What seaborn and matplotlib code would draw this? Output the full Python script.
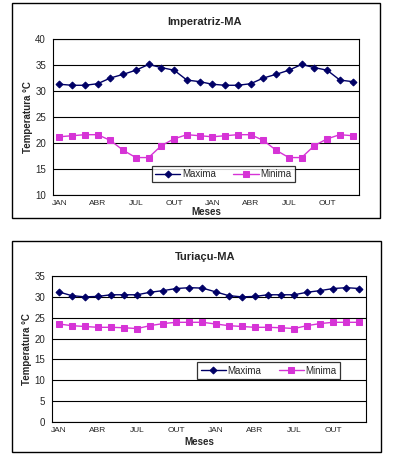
import pandas as pd
import matplotlib
matplotlib.use("Agg")
import matplotlib.pyplot as plt
import seaborn as sns
from matplotlib.patches import Rectangle
from matplotlib.ticker import MultipleLocator, FixedLocator

sns.set_style("white")
plt.rcParams['font.family'] = ['Liberation Sans', 'DejaVu Sans']

meses = ["JAN", "FEV", "MAR", "ABR", "MAI", "JUN", "JUL", "AGO", "SET", "OUT", "NOV", "DEZ"] * 2
tick_labels = ["JAN", "ABR", "JUL", "OUT", "JAN", "ABR", "JUL", "OUT"]

imp_max = [31.3, 31.1, 31.1, 31.4, 32.5, 33.2, 34.0, 35.1, 34.5, 34.0, 32.1, 31.8,
           31.3, 31.1, 31.1, 31.4, 32.5, 33.2, 34.0, 35.1, 34.5, 34.0, 32.1, 31.8]
imp_min = [21.2, 21.4, 21.6, 21.6, 20.5, 18.6, 17.2, 17.2, 19.5, 20.8, 21.6, 21.4,
           21.2, 21.4, 21.6, 21.6, 20.5, 18.6, 17.2, 17.2, 19.5, 20.8, 21.6, 21.4]

tur_max = [31.2, 30.3, 30.0, 30.1, 30.5, 30.5, 30.5, 31.1, 31.5, 32.0, 32.2, 32.1,
           31.2, 30.3, 30.0, 30.1, 30.5, 30.5, 30.5, 31.1, 31.5, 32.0, 32.2, 32.0]
tur_min = [23.5, 23.1, 22.9, 22.7, 22.7, 22.6, 22.4, 23.1, 23.6, 23.9, 23.9, 23.9,
           23.5, 23.1, 22.9, 22.7, 22.7, 22.6, 22.4, 23.1, 23.6, 23.9, 23.9, 23.9]

cor_max = "#000066"
cor_min = "#d633d6"

W, H = 394, 466
fig = plt.figure(figsize=(W / 100, H / 100), dpi=100)


def px_axes(x0, y0, x1, y1):
    return fig.add_axes([x0 / W, (H - y1) / H, (x1 - x0) / W, (y1 - y0) / H])


def painel(ax, vmax, vmin, titulo, ylim, leg_pos, meses_pos, caixa, title_y):
    df = pd.DataFrame({"idx": range(len(vmax)), "Maxima": vmax, "Minima": vmin})
    sns.lineplot(data=df, x="idx", y="Maxima", ax=ax, color=cor_max, marker="D",
                 markersize=3.5, markeredgecolor=cor_max, lw=1.0, label="Maxima")
    sns.lineplot(data=df, x="idx", y="Minima", ax=ax, color=cor_min, marker="s",
                 markersize=4, markeredgecolor=cor_min, lw=1.0, label="Minima")
    ax.set_xlim(-0.5, len(vmax) - 0.5)
    ax.set_ylim(*ylim)
    ax.yaxis.set_major_locator(MultipleLocator(5))
    ax.grid(axis="y", color="black", lw=0.8)
    ax.set_axisbelow(True)
    ax.xaxis.set_major_locator(FixedLocator(list(range(0, 24, 3))))
    ax.set_xticklabels(tick_labels)
    ax.xaxis.set_minor_locator(FixedLocator([i - 0.5 for i in range(25)]))
    ax.tick_params(axis="x", which="major", length=0, labelsize=6, pad=3.5)
    ax.tick_params(axis="x", which="minor", length=2.5, width=0.7, color="black", direction="out")
    ax.tick_params(axis="y", length=3, width=0.7, color="black", direction="out", labelsize=7, pad=2)
    for s in ax.spines.values():
        s.set_color("black")
        s.set_linewidth(0.8)
    ax.set_xlabel("")
    ax.set_ylabel("Temperatura °C", fontsize=7, fontweight="bold", labelpad=2)
    fig.text(205 / W, 1 - title_y / H, titulo, ha="center", va="center", fontsize=8, fontweight="bold")
    fig.text(meses_pos[0] / W, 1 - meses_pos[1] / H, "Meses", ha="center", va="center",
             fontsize=7, fontweight="bold")
    leg = ax.legend(loc="center", bbox_to_anchor=leg_pos, ncol=2, frameon=True, fancybox=False,
                    edgecolor="black", fontsize=7, borderpad=0.35, handlelength=2.6,
                    columnspacing=1.8, handletextpad=0.15, borderaxespad=0)
    leg.get_frame().set_linewidth(0.9)
    x0, y0, x1, y1 = caixa
    fig.patches.append(Rectangle((x0 / W, 1 - y1 / H), (x1 - x0) / W, (y1 - y0) / H,
                                 transform=fig.transFigure, fill=False, edgecolor="black", lw=1.0))


ax1 = px_axes(53, 39, 359, 195)
painel(ax1, imp_max, imp_min, "Imperatriz-MA", (10, 40), (0.556, 0.135), (206, 212.5),
       (12, 3, 380, 218), 22)

ax2 = px_axes(52, 276, 366, 422)
painel(ax2, tur_max, tur_min, "Turiaçu-MA", (0, 35), (0.69, 0.35), (199, 442),
       (12, 241, 381, 452), 257)

fig.savefig("out.png", dpi=100)
